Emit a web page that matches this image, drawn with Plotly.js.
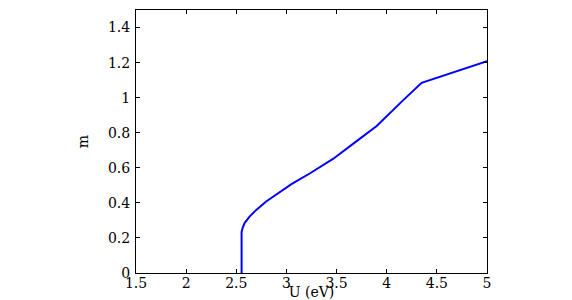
<!DOCTYPE html>
<html>
<head>
<meta charset="utf-8">
<script src="https://cdn.plot.ly/plotly-3.0.1.min.js"></script>
<style>
body { margin: 0; padding: 0; background: #fff; }
#chart { width: 572px; height: 300px; }
</style>
</head>
<body>
<div id="chart"></div>
<script>
// U (eV) and magnetisation m
var uValues = [2.553, 2.553, 2.565, 2.583, 2.632, 2.699, 2.798, 2.931, 3.05, 3.236, 3.468, 3.70, 3.90, 4.165, 4.348, 5.0];
var mValues = [0, 0.235, 0.26, 0.285, 0.322, 0.360, 0.408, 0.462, 0.507, 0.569, 0.652, 0.752, 0.838, 0.986, 1.085, 1.208];

var xTicks = [1.5, 2, 2.5, 3, 3.5, 4, 4.5, 5];
var xTickText = ['1.5', '2', '2.5', '3', '3.5', '4', '4.5', '5'];
var yTicks = [0, 0.2, 0.4, 0.6, 0.8, 1, 1.2, 1.4];
var yTickText = ['0', '0.2', '0.4', '0.6', '0.8', '1', '1.2', '1.4'];

var font = { family: 'DejaVu Serif, serif', size: 14, color: '#000' };

var trace = {
	x: uValues,
	y: mValues,
	type: 'scatter',
	mode: 'lines',
	line: { color: '#0000ff', width: 2 },
	hoverinfo: 'none'
};

var layout = {
	width: 572,
	height: 300,
	margin: { l: 135.5, r: 84.7, t: 9.5, b: 26.7 },
	paper_bgcolor: '#fff',
	plot_bgcolor: '#fff',
	showlegend: false,
	font: font,
	xaxis: {
		range: [1.5, 5],
		tickvals: xTicks,
		ticktext: xTickText,
		ticks: 'inside',
		ticklen: 4,
		tickcolor: '#000',
		showline: true,
		linecolor: '#000',
		linewidth: 1,
		mirror: 'ticks',
		showgrid: false,
		zeroline: false,
		ticklabelstandoff: -3,
		tickfont: font,
		title: { text: 'U (eV)', font: font, standoff: 1 }
	},
	yaxis: {
		range: [0, 1.5],
		tickvals: yTicks,
		ticktext: yTickText,
		ticks: 'inside',
		ticklen: 4,
		tickcolor: '#000',
		showline: true,
		linecolor: '#000',
		linewidth: 1,
		mirror: 'ticks',
		showgrid: false,
		zeroline: false,
		ticklabelstandoff: 2,
		tickfont: font,
		title: { text: 'm', font: font, standoff: 16 }
	}
};

Plotly.newPlot(document.getElementById('chart'), [trace], layout, { staticPlot: true, displayModeBar: false });
</script>
</body>
</html>
